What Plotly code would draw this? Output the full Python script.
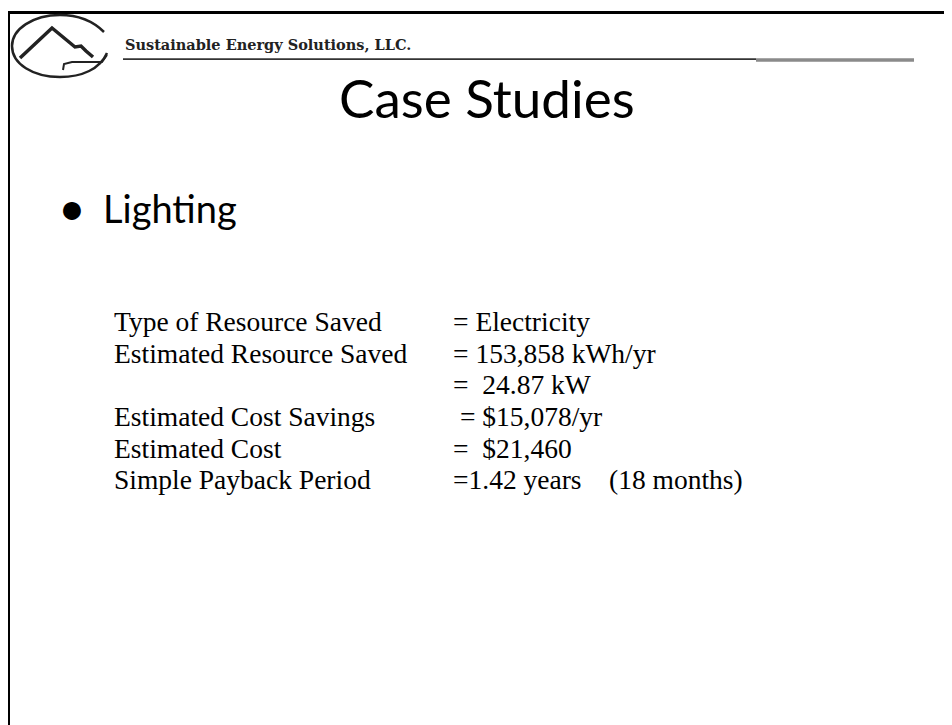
import plotly.graph_objects as go

company = "Sustainable Energy Solutions, LLC."
title = "Case Studies"
bullet = "Lighting"

labels = [
    "Type of Resource Saved",
    "Estimated Resource Saved",
    "",
    "Estimated Cost Savings",
    "Estimated Cost",
    "Simple Payback Period",
]
values = [
    "= Electricity",
    "= 153,858 kWh/yr",
    "=  24.87 kW",
    " = $15,078/yr",
    "=  $21,460",
    "=1.42 years    (18 months)",
]

W, H = 952, 725
PAD = 8  # default body margin of the html page
NB = "\u00a0"


def nbsp(s):
    return s.replace(" ", NB)


fig = go.Figure()

shapes = [
    # slide frame
    dict(type="line", x0=7, x1=W, y0=12.5, y1=12.5, line=dict(color="black", width=3)),
    dict(type="line", x0=8.5, x1=8.5, y0=11, y1=H, line=dict(color="black", width=3)),
    # header rule
    dict(type="line", x0=123, x1=756, y0=59.2, y1=59.2, line=dict(color="#333333", width=1.7)),
    dict(type="line", x0=756, x1=914, y0=60, y1=60, line=dict(color="#8a8a8a", width=3.3)),
    # logo
    dict(type="path",
         path="M 104,32 C 92,20 77,15 60,15 C 33,15 12,29 12,46 C 12,64 33,77 60,77 "
              "C 82,77 100,69 107,53",
         line=dict(color="#222222", width=2.5)),
    dict(type="path", path="M 20,58 L 52,28 L 75,47 L 81,46 L 86,51 L 93,57",
         line=dict(color="#222222", width=3.5)),
    dict(type="path", path="M 63,70 L 64,64 L 72,62 L 102,62 L 107,55",
         line=dict(color="#222222", width=2)),
]

ann = [
    dict(x=123, y=44.5, text="<b>" + company + "</b>", xanchor="left", yanchor="middle",
         font=dict(family="DejaVu Serif", size=14.5, color="#222222")),
    dict(x=487, y=97, text=title, xanchor="center", yanchor="middle",
         font=dict(family="Lato", size=53, color="black")),
    dict(x=72, y=206, text="\u2022", xanchor="center", yanchor="middle",
         font=dict(family="Lato", size=48, color="black")),
    dict(x=101, y=208, text=bullet, xanchor="left", yanchor="middle",
         font=dict(family="Lato", size=38, color="black")),
]

base = 330.7
step = 31.6
for i, (lab, val) in enumerate(zip(labels, values)):
    yc = base + i * step - 9
    if lab:
        ann.append(dict(x=112, y=yc, text=nbsp(lab), xanchor="left", yanchor="middle",
                        font=dict(family="Liberation Serif", size=27.5, color="black")))
    ann.append(dict(x=451, y=yc, text=nbsp(val), xanchor="left", yanchor="middle",
                    font=dict(family="Liberation Serif", size=27.5, color="black")))

for a in ann:
    a.update(xref="x", yref="y", showarrow=False)

fig.update_layout(
    width=W - PAD,
    height=H - PAD,
    margin=dict(l=0, r=0, t=0, b=0),
    paper_bgcolor="white",
    plot_bgcolor="white",
    xaxis=dict(range=[PAD, W], visible=False, fixedrange=True),
    yaxis=dict(range=[H, PAD], visible=False, fixedrange=True),
    shapes=shapes,
    annotations=ann,
    showlegend=False,
)

fig.write_html("out.html")
